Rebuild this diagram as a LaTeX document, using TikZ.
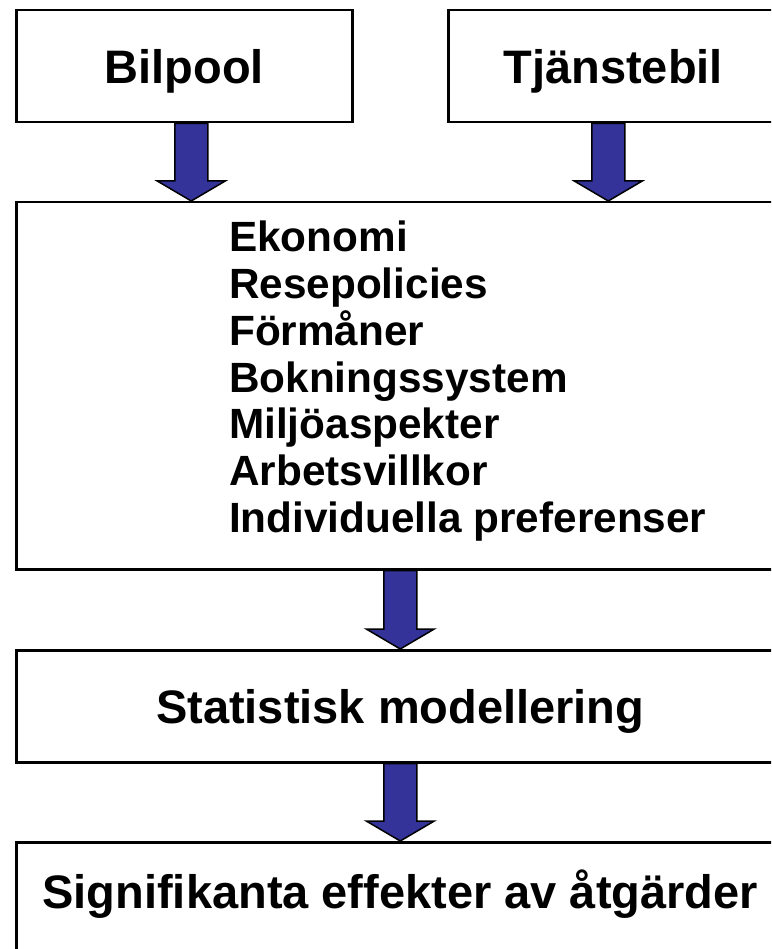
\documentclass[tikz,border=0pt]{standalone}
\usepackage{fontspec}
\setmainfont{Liberation Sans}
\usetikzlibrary{calc}

\definecolor{arrowblue}{RGB}{51,51,153}

\tikzset{
    box/.style={draw, line width=2.5pt, anchor=north west, inner sep=0pt,
        font=\bfseries\fontsize{47}{56}\selectfont, text height=34pt, text depth=0pt},
    item/.style={anchor=base west, inner sep=0pt, font=\bfseries\fontsize{42.3}{47}\selectfont},
    blockarrow/.style={fill=arrowblue, draw=black, line width=1.5pt, line join=miter,
        to path={let \p1=(\tikztostart), \p2=(\tikztotarget) in
            (\x1-16.5pt,\y1) -- (\x1+16.5pt,\y1) -- (\x1+16.5pt,\y2+20pt)
            -- (\x1+34pt,\y2+20pt) -- (\x1,\y2) -- (\x1-34pt,\y2+20pt)
            -- (\x1-16.5pt,\y2+20pt) -- cycle}}
}

\begin{document}
\begin{tikzpicture}[x=1pt, y=-1pt]
    \useasboundingbox (0,0) rectangle (771,949);
    \clip (0,0) rectangle (771,949);
    \draw[every node/.style={box}]
        (15,9) node[minimum width=336pt, minimum height=112pt] (bil){Bilpool}
        (447,9) node[minimum width=330pt, minimum height=112pt] (tjb){Tjänstebil}
        (15,201) node[minimum width=768pt, minimum height=367pt] (big){}
        (15,649) node[minimum width=768pt, minimum height=112pt] (stat){Statistisk modellering}
        (15,841) node[minimum width=768pt, minimum height=112pt, text depth=14pt] (sig){Signifikanta effekter av åtgärder};
    % faktorer
    \foreach \txt [count=\i] in {Ekonomi, Resepolicies, Förmåner, Bokningssystem,
            Miljöaspekter, Arbetsvillkor, Individuella preferenser}
        \node[item] (f\i) at (229, {252+46.7*(\i-1)}) {\txt};
    \begin{scope}
        \draw[blockarrow] ($(bil.south)+(7,0)$) to (big.north);
        \draw[blockarrow] ($(tjb.south)+(-5,0)$) to (big.north);
        \draw[blockarrow] (big.south) to (stat.north);
        \draw[blockarrow] (stat.south) to (sig.north);
    \end{scope}
\end{tikzpicture}
\end{document}
